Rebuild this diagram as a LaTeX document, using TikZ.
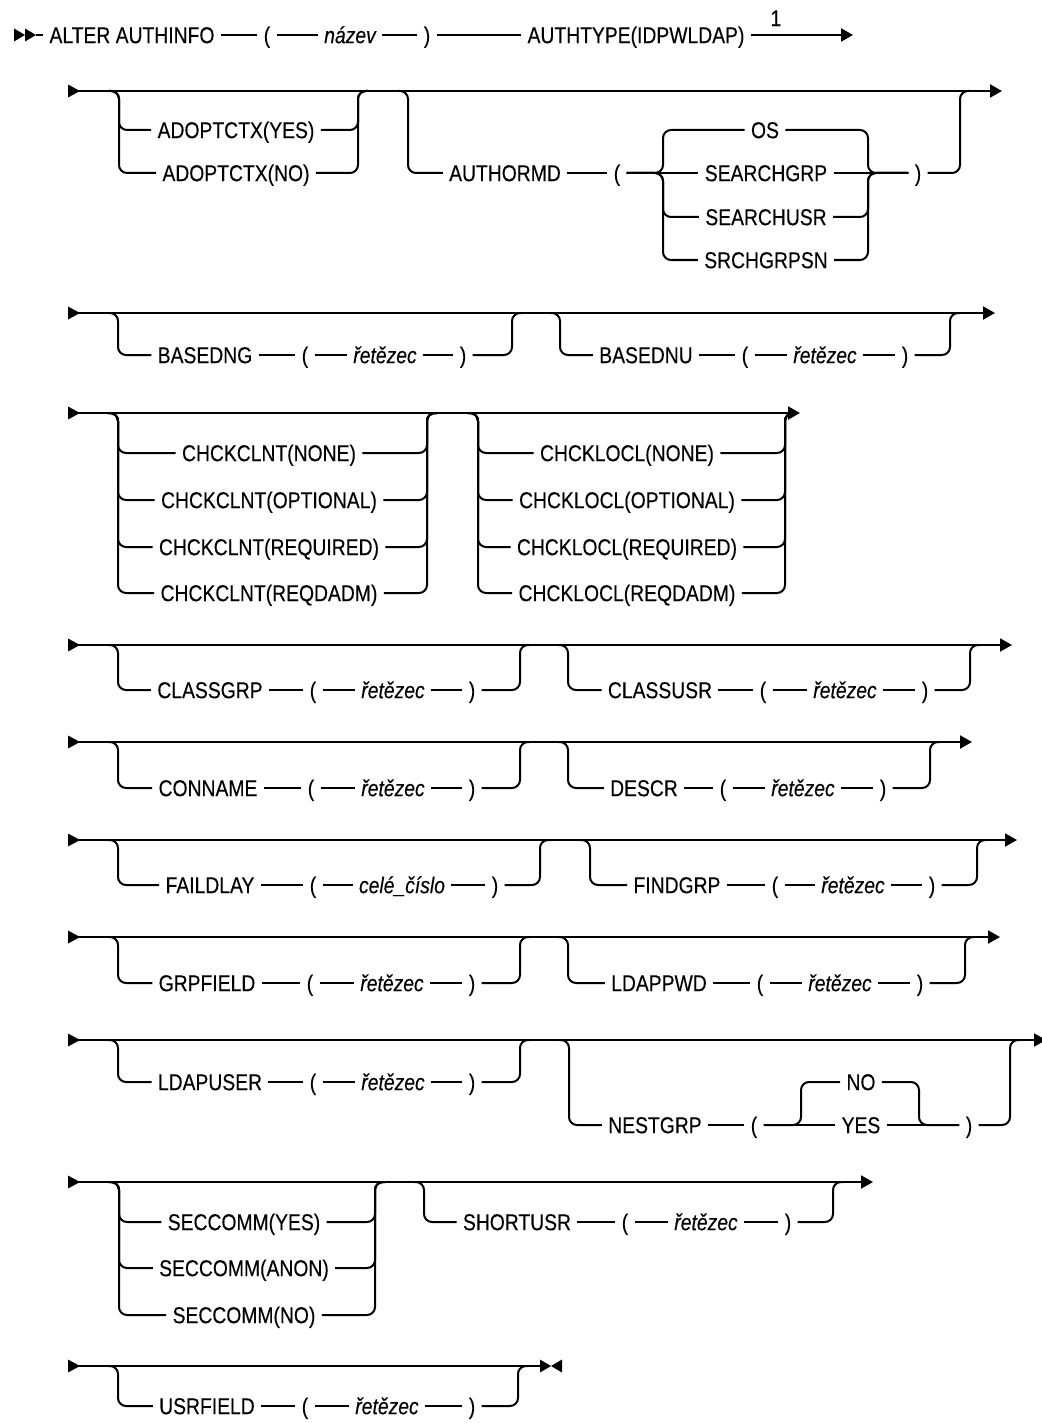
\documentclass[tikz,border=0pt]{standalone}
\usepackage{fontspec}
\setmainfont{Liberation Sans}[FakeStretch=0.84,FakeBold=0.25]
\usetikzlibrary{arrows.meta}
\tikzset{
  ln/.style={line width=1pt},
  br/.style={ln, rounded corners=4pt},
  mainln/.style={ln, -{Triangle[length=6pt,width=6.5pt]}},
  kw/.style={inner xsep=3pt, inner ysep=0pt, text height=8.2pt, text depth=0pt, font=\fontsize{11.5pt}{13pt}\selectfont},
  var/.style={kw, font=\fontsize{11.5pt}{13pt}\selectfont\itshape},
}
\newcommand\rrchoiceblock[6]{%
  \coordinate (L#1) at (#2,#4);
  \coordinate (R#1) at (#3,#4);
  \foreach \txt/\yy [count=\k] in {#6} {
    \node[kw] (#1n\k) at (#5,\yy) {\txt};
    \draw[br] ([xshift=-5pt]L#1) -- (L#1) -- (L#1 |- #1n\k) -- (#1n\k.west);
    \draw[br] (#1n\k.east) -- (R#1 |- #1n\k) -- (R#1) -- ([xshift=5pt]R#1);
  }}
\begin{document}
\begin{tikzpicture}[x=0.5pt,y=-0.5pt]
\useasboundingbox (0,0) rectangle (1042,1423);

% ---------- row 1
\coordinate (r1s) at (14,35);
\fill (r1s) -- ++(0,-6.5) -- ++(11,6.5) -- ++(-11,6.5) -- cycle;
\fill ([xshift=5.5pt]r1s) -- ++(0,-6.5) -- ++(11,6.5) -- ++(-11,6.5) -- cycle;
\node[kw] (alter) at (132,35) {ALTER AUTHINFO};
\node[kw] (p1o) at (267,35) {(};
\node[var] (nazev) at (350,35) {název};
\node[kw] (p1c) at (427,35) {)};
\node[kw] (authtype) at (636,35) {AUTHTYPE(IDPWLDAP)};
\node[kw] (note1) at (776,18) {1};
\coordinate (r1e) at (853,35);
\draw[ln] ([xshift=11pt]r1s) -- (alter.west);
\draw[ln] (alter.east) -- (p1o.west) (p1o.east) -- (nazev.west) (nazev.east) -- (p1c.west) (p1c.east) -- (authtype.west);
\draw[mainln] (authtype.east) -- (r1e);

% ---------- main lines with start marks
\foreach \r/\y/\xe in {2/91/1002, 3/313/995, 4/413/800, 5/645/1012, 6/742/972, 7/840/1017, 8/937/1000, 9/1040/1046, 10/1182/873} {
  \coordinate (s\r) at (68,\y);
  \coordinate (e\r) at (\xe,\y);
  \fill (s\r) -- ++(0,-6.5) -- ++(12,6.5) -- ++(-12,6.5) -- cycle;
  \draw[mainln] (s\r) -- (e\r);
}
\coordinate (s11) at (68,1366);
\coordinate (e11) at (540,1366);
\fill (s11) -- ++(0,-6.5) -- ++(12,6.5) -- ++(-12,6.5) -- cycle;
\draw[ln] (s11) -- (e11);
\fill (e11) -- ++(0,-6.5) -- ++(11,6.5) -- ++(-11,6.5) -- cycle;
\fill ([xshift=11pt]e11) -- ++(0,-6.5) -- ++(-11,6.5) -- ++(11,6.5) -- cycle;

% ---------- choice blocks
\rrchoiceblock{ad}{119}{358}{91}{236}{ADOPTCTX(YES)/130, ADOPTCTX(NO)/173}
\rrchoiceblock{cc}{118}{427}{413}{269}{CHCKCLNT(NONE)/453, CHCKCLNT(OPTIONAL)/500, CHCKCLNT(REQUIRED)/547, CHCKCLNT(REQDADM)/593}
\rrchoiceblock{cl}{478}{785}{413}{627}{CHCKLOCL(NONE)/453, CHCKLOCL(OPTIONAL)/500, CHCKLOCL(REQUIRED)/547, CHCKLOCL(REQDADM)/593}
\rrchoiceblock{sc}{119}{375}{1182}{244}{SECCOMM(YES)/1222, SECCOMM(ANON)/1268, SECCOMM(NO)/1315}

% ---------- keyword ( value ) blocks
\foreach \id/\xl/\xr/\ym/\yt/\kwd/\xk/\xo/\vv/\xv/\xc in {
  a3/118/512/313/355/BASEDNG/205/305/řetězec/385/463,
  b3/560/950/313/355/BASEDNU/646/745/řetězec/825/905,
  a5/118/520/645/690/CLASSGRP/210/313/řetězec/393/472,
  b5/568/970/645/690/CLASSUSR/660/763/řetězec/845/925,
  a6/118/520/742/788/CONNAME/208/311/řetězec/393/472,
  b6/568/930/742/788/DESCR/644/723/řetězec/803/883,
  a7/118/540/840/885/FAILDLAY/210/313/celé\_číslo/402/495,
  b7/590/977/840/885/FINDGRP/677/775/řetězec/853/932,
  a8/118/520/937/983/GRPFIELD/207/310/řetězec/392/472,
  b8/568/965/937/983/LDAPPWD/659/760/řetězec/840/920,
  a9/118/520/1040/1082/LDAPUSER/210/313/řetězec/393/472,
  a10/424/833/1182/1222/SHORTUSR/517/625/řetězec/706/788,
  a11/118/518/1366/1406/USRFIELD/207/305/řetězec/387/472} {
  \coordinate (L\id) at (\xl,\ym);
  \coordinate (R\id) at (\xr,\ym);
  \node[kw] (K\id) at (\xk,\yt) {\kwd};
  \node[kw] (O\id) at (\xo,\yt) {(};
  \node[var] (V\id) at (\xv,\yt) {\vv};
  \node[kw] (C\id) at (\xc,\yt) {)};
  \draw[br] ([xshift=-5pt]L\id) -- (L\id) -- (L\id |- K\id) -- (K\id.west);
  \draw[ln] (K\id.east) -- (O\id.west) (O\id.east) -- (V\id.west) (V\id.east) -- (C\id.west);
  \draw[br] (C\id.east) -- (R\id |- C\id) -- (R\id) -- ([xshift=5pt]R\id);
}

% ---------- AUTHORMD block
\coordinate (Lam) at (408,91);
\coordinate (Ram) at (960,91);
\node[kw] (authormd) at (505,173) {AUTHORMD};
\node[kw] (p2o) at (617,173) {(};
\coordinate (i2l) at (663,173);
\coordinate (i2r) at (868,173);
\node[kw] (os) at (765,130) {OS};
\node[kw] (sgrp) at (766,173) {SEARCHGRP};
\node[kw] (susr) at (766,217) {SEARCHUSR};
\node[kw] (sgpsn) at (766,260) {SRCHGRPSN};
\node[kw] (p2c) at (918,173) {)};
\draw[br] ([xshift=-5pt]Lam) -- (Lam) -- (Lam |- authormd) -- (authormd.west);
\draw[ln] (authormd.east) -- (p2o.west);
\draw[ln] (p2o.east) -- (sgrp.west) (sgrp.east) -- (p2c.west);
\foreach \n in {os,susr,sgpsn} {
  \draw[br] (p2o.east) -- (i2l) -- (i2l |- \n) -- (\n.west);
  \draw[br] (\n.east) -- (i2r |- \n) -- (i2r) -- (p2c.west);
}
\draw[br] (p2c.east) -- (Ram |- p2c) -- (Ram) -- ([xshift=5pt]Ram);

% ---------- NESTGRP block
\coordinate (Lng) at (569,1040);
\coordinate (Rng) at (1010,1040);
\node[kw] (nestgrp) at (655,1125) {NESTGRP};
\node[kw] (p9o) at (754,1125) {(};
\coordinate (i9l) at (801,1125);
\coordinate (i9r) at (919,1125);
\node[kw] (no9) at (861,1082) {NO};
\node[kw] (yes9) at (861,1125) {YES};
\node[kw] (p9c) at (969,1125) {)};
\draw[br] ([xshift=-5pt]Lng) -- (Lng) -- (Lng |- nestgrp) -- (nestgrp.west);
\draw[ln] (nestgrp.east) -- (p9o.west) (p9o.east) -- (yes9.west) (yes9.east) -- (p9c.west);
\draw[br] (p9o.east) -- (i9l) -- (i9l |- no9) -- (no9.west);
\draw[br] (no9.east) -- (i9r |- no9) -- (i9r) -- (p9c.west);
\draw[br] (p9c.east) -- (Rng |- p9c) -- (Rng) -- ([xshift=5pt]Rng);
\end{tikzpicture}
\end{document}
